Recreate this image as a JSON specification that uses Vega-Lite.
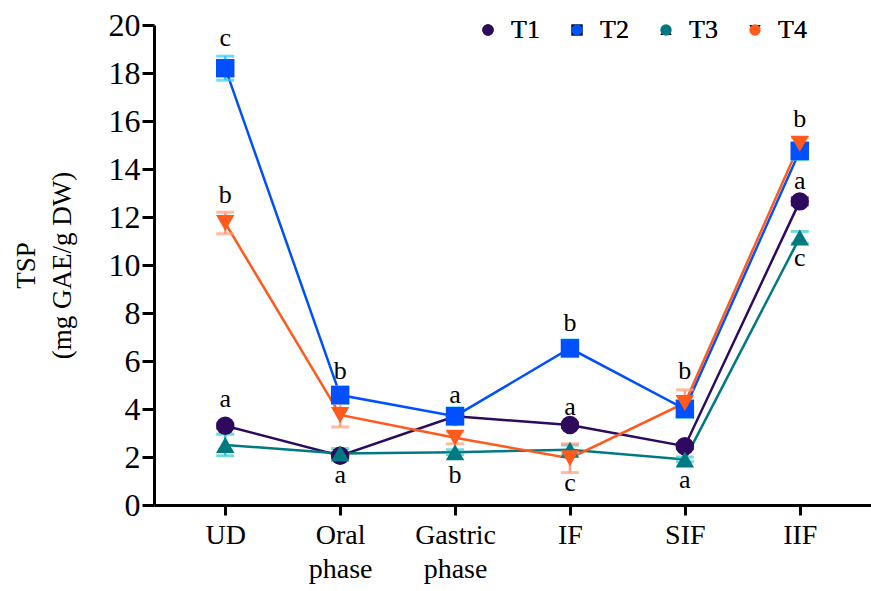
{
  "$schema": "https://vega.github.io/schema/vega-lite/v6.json",
  "width": 717,
  "height": 480,
  "autosize": "none",
  "padding": {"left": 154, "top": 25, "right": 0, "bottom": 86},
  "background": "white",
  "config": {
    "font": "Liberation Serif",
    "view": {"stroke": null},
    "axis": {"domainColor": "black", "tickColor": "black", "labelColor": "black", "titleColor": "black", "grid": false, "labelFont": "Liberation Serif", "titleFont": "Liberation Serif"},
    "legend": {"labelFont": "Liberation Serif", "titleFont": "Liberation Serif"},
    "text": {"font": "Liberation Serif"}
  },
  "datasets": {
    "main": [
      {"stage": "UD", "series": "T1", "value": 3.3, "err": 0.1},
      {"stage": "Oral phase", "series": "T1", "value": 2.05, "err": 0.1},
      {"stage": "Gastric phase", "series": "T1", "value": 3.7, "err": 0.1},
      {"stage": "IF", "series": "T1", "value": 3.33, "err": 0.1},
      {"stage": "SIF", "series": "T1", "value": 2.45, "err": 0.1},
      {"stage": "IIF", "series": "T1", "value": 12.65, "err": 0.15},
      {"stage": "UD", "series": "T2", "value": 18.2, "err": 0.5},
      {"stage": "Oral phase", "series": "T2", "value": 4.58, "err": 0.35},
      {"stage": "Gastric phase", "series": "T2", "value": 3.7, "err": 0.35},
      {"stage": "IF", "series": "T2", "value": 6.53, "err": 0.35},
      {"stage": "SIF", "series": "T2", "value": 4.0, "err": 0.35},
      {"stage": "IIF", "series": "T2", "value": 14.75, "err": 0.35},
      {"stage": "UD", "series": "T3", "value": 2.5, "err": 0.45},
      {"stage": "Oral phase", "series": "T3", "value": 2.15, "err": 0.2},
      {"stage": "Gastric phase", "series": "T3", "value": 2.2, "err": 0.1},
      {"stage": "IF", "series": "T3", "value": 2.3, "err": 0.2},
      {"stage": "SIF", "series": "T3", "value": 1.9, "err": 0.1},
      {"stage": "IIF", "series": "T3", "value": 11.15, "err": 0.25},
      {"stage": "UD", "series": "T4", "value": 11.75, "err": 0.45},
      {"stage": "Oral phase", "series": "T4", "value": 3.75, "err": 0.5},
      {"stage": "Gastric phase", "series": "T4", "value": 2.8, "err": 0.25},
      {"stage": "IF", "series": "T4", "value": 1.95, "err": 0.6},
      {"stage": "SIF", "series": "T4", "value": 4.25, "err": 0.55},
      {"stage": "IIF", "series": "T4", "value": 15.05, "err": 0.25}
    ],
    "letters": [
      {"stage": "UD", "value": 19.45, "label": "c"},
      {"stage": "UD", "value": 12.9, "label": "b"},
      {"stage": "UD", "value": 4.4, "label": "a"},
      {"stage": "Oral phase", "value": 5.6, "label": "b"},
      {"stage": "Oral phase", "value": 1.25, "label": "a"},
      {"stage": "Gastric phase", "value": 4.6, "label": "a"},
      {"stage": "Gastric phase", "value": 1.25, "label": "b"},
      {"stage": "IF", "value": 7.6, "label": "b"},
      {"stage": "IF", "value": 4.1, "label": "a"},
      {"stage": "IF", "value": 0.9, "label": "c"},
      {"stage": "SIF", "value": 5.6, "label": "b"},
      {"stage": "SIF", "value": 1.05, "label": "a"},
      {"stage": "IIF", "value": 16.1, "label": "b"},
      {"stage": "IIF", "value": 13.5, "label": "a"},
      {"stage": "IIF", "value": 10.3, "label": "c"}
    ]
  },
  "encoding": {
    "x": {
      "field": "stage",
      "type": "ordinal",
      "sort": ["UD", "Oral phase", "Gastric phase", "IF", "SIF", "IIF"],
      "scale": {"type": "point", "padding": 0.62},
      "axis": {
        "title": null,
        "labelAngle": 0,
        "labelFontSize": 28,
        "labelFont": "Liberation Serif",
        "labelLineHeight": 34,
        "labelPadding": 6,
        "labelBaseline": "top",
        "labelExpr": "split(datum.label, ' ')",
        "domainWidth": 3,
        "tickWidth": 3,
        "tickSize": 10
      }
    },
    "y": {
      "field": "value",
      "type": "quantitative",
      "scale": {"domain": [0, 20], "nice": false},
      "axis": {
        "values": [0, 2, 4, 6, 8, 10, 12, 14, 16, 18, 20],
        "labelFontSize": 32,
        "labelFont": "Liberation Serif",
        "labelPadding": 2,
        "domainWidth": 3,
        "tickWidth": 3,
        "tickSize": 12,
        "title": ["TSP", "(mg GAE/g DW)"],
        "titleFont": "Liberation Serif",
        "titleFontSize": 27,
        "titleFontWeight": "normal",
        "titleLineHeight": 36,
        "titlePadding": 32
      }
    }
  },
  "layer": [
    {
      "data": {"name": "main"},
      "mark": {"type": "line", "strokeWidth": 2.5},
      "encoding": {
        "color": {"field": "series", "type": "nominal", "scale": {"domain": ["T1", "T2", "T3", "T4"], "range": ["#2d0a5e", "#0050ff", "#007a80", "#ff5a1e"]}, "legend": null}
      }
    },
    {
      "data": {"name": "main"},
      "mark": {"type": "errorbar", "ticks": {"size": 18, "thickness": 3}, "thickness": 2.5},
      "encoding": {
        "yError": {"field": "err"},
        "color": {"field": "series", "type": "nominal", "scale": {"domain": ["T1", "T2", "T3", "T4"], "range": ["#2d0a5e", "#33ccff", "#33cccc", "#ffa07a"]}, "legend": null}
      }
    },
    {
      "data": {"name": "main"},
      "mark": {"type": "point", "filled": true, "opacity": 1, "size": 340},
      "encoding": {
        "color": {"field": "series", "type": "nominal", "scale": {"domain": ["T1", "T2", "T3", "T4"], "range": ["#2d0a5e", "#0050ff", "#007a80", "#ff5a1e"]},
          "legend": {
            "title": null,
            "orient": "none",
            "direction": "horizontal",
            "legendX": 321,
            "legendY": -8,
            "padding": 0,
            "labelFontSize": 26,
            "labelFont": "Liberation Serif",
            "labelFontWeight": "normal",
            "labelColor": "black",
            "labelOffset": 10,
            "columnPadding": 24,
            "symbolSize": 130,
            "symbolStrokeWidth": 0
          }
        },
        "shape": {"field": "series", "type": "nominal", "scale": {"domain": ["T1", "T2", "T3", "T4"], "range": ["circle", "square", "triangle-up", "triangle-down"]},
          "legend": {
            "title": null,
            "orient": "none",
            "direction": "horizontal",
            "legendX": 321,
            "legendY": -8,
            "padding": 0,
            "labelFontSize": 26,
            "labelFont": "Liberation Serif",
            "labelFontWeight": "normal",
            "labelColor": "black",
            "labelOffset": 10,
            "columnPadding": 24,
            "symbolSize": 130,
            "symbolStrokeWidth": 0
          }
        }
      }
    },
    {
      "data": {"name": "letters"},
      "mark": {"type": "text", "fontSize": 26, "font": "Liberation Serif", "color": "black", "baseline": "middle", "align": "center"},
      "encoding": {
        "text": {"field": "label"}
      }
    }
  ],
  "resolve": {"scale": {"color": "independent"}}
}
